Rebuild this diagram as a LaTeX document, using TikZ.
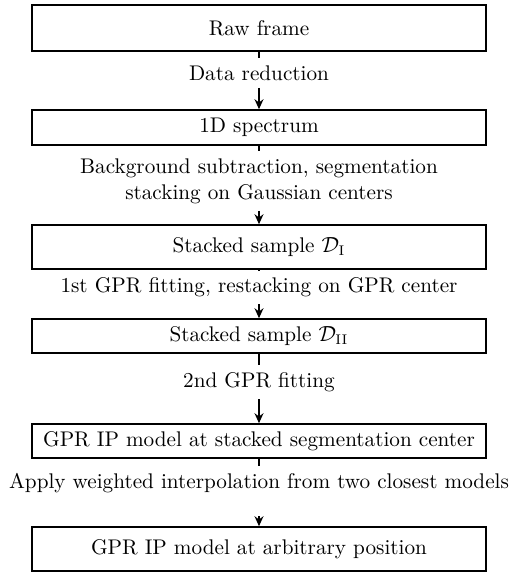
\documentclass[tikz,border=0pt]{standalone}
\usetikzlibrary{arrows.meta}
\begin{document}
\begin{tikzpicture}[x=0.5pt,y=-0.5pt,
  font=\fontsize{10.6}{13}\selectfont,
  box/.style={draw,line width=0.8pt,minimum width=227pt,inner sep=0pt},
  lab/.style={inner sep=3.5pt,align=center},
  arr/.style={-{Stealth[length=5pt,width=4.5pt]},line width=0.6pt},
  ln/.style={line width=0.6pt}]
\useasboundingbox (0,0) rectangle (509,572);
\node[box,minimum height=23pt] (b1) at (259,28) {Raw frame};
\node[box,minimum height=17.5pt] (b2) at (259,127.5) {1D spectrum};
\node[box,minimum height=22pt] (b3) at (259,247) {Stacked sample $\mathcal{D}_\mathrm{I}$};
\node[box,minimum height=17pt] (b4) at (259,336) {Stacked sample $\mathcal{D}_\mathrm{II}$};
\node[box,minimum height=17pt] (b5) at (259,441) {GPR IP model at stacked segmentation center};
\node[box,minimum height=22pt] (b6) at (259,549) {GPR IP model at arbitrary position};
\node[lab] (l1) at (259,73) {Data reduction};
\node[lab] (l2) at (259,181) {Background subtraction, segmentation\\stacking on Gaussian centers};
\node[lab] (l3) at (259,287) {1st GPR fitting, restacking on GPR center};
\node[lab] (l4) at (259,382) {2nd GPR fitting};
\node[lab] (l5) at (259,483) {Apply weighted interpolation from two closest models};
\coordinate (c5) at (259,516);
\foreach \a/\l/\b in {b1/l1/b2,b2/l2/b3,b3/l3/b4,b4/l4/b5}{
  \draw[ln] (\a) -- (\l);
  \draw[arr] (\l) -- (\b);
}
\draw[ln] (b5) -- (l5);
\draw[arr] (c5) -- (b6);
\end{tikzpicture}
\end{document}
